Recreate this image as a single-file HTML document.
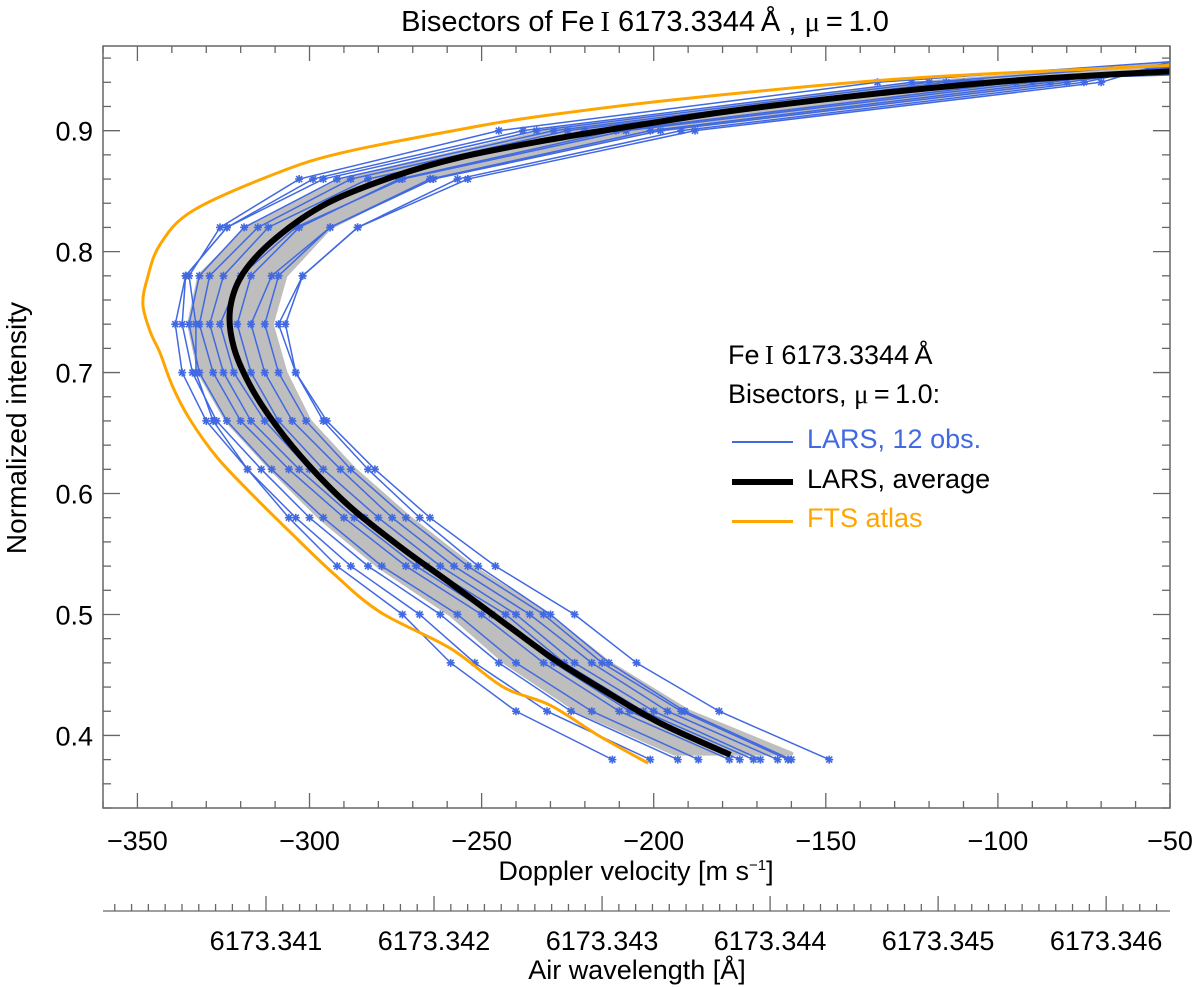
<!DOCTYPE html>
<html><head><meta charset="utf-8"><style>
html,body{margin:0;padding:0;background:#fff;}
svg{display:block;font-family:"Liberation Sans",sans-serif;}
</style></head><body>
<svg id="chart" width="1200" height="987" viewBox="0 0 1200 987" xmlns="http://www.w3.org/2000/svg"></svg>
<script>
// ---- data ----
const xTicks = [-350,-300,-250,-200,-150,-100,-50];
const yTicks = [0.4,0.5,0.6,0.7,0.8,0.9];
const wlTicks = ["6173.341","6173.342","6173.343","6173.344","6173.345","6173.346"];
const avgI = [0.384,0.410,0.439,0.463,0.490,0.526,0.556,0.589,0.622,0.655,0.688,0.721,0.752,0.782,0.812,0.840,0.862,0.878,0.892,0.905,0.917,0.931,0.942,0.949];
const avgV = [-177.7,-198,-215.5,-229,-242,-259.1,-273.7,-288.2,-299.8,-309.4,-317,-322,-323.1,-319.3,-309.4,-294.9,-275.7,-256.2,-231.3,-203.6,-175.7,-134.1,-92.6,-50];
const ftsI = [0.377,0.399,0.425,0.440,0.472,0.502,0.534,0.568,0.601,0.630,0.661,0.688,0.716,0.734,0.756,0.777,0.806,0.834,0.865,0.882,0.901,0.912,0.926,0.943,0.954];
const ftsV = [-201.6,-215.5,-230.1,-243.7,-259.1,-279.5,-293.1,-305.6,-317.3,-326.9,-334.7,-339.7,-343.4,-346.3,-348.4,-347.2,-343.4,-333.8,-309.4,-290.2,-256.2,-232.7,-192.6,-127.2,-50];
const bandI = [0.385,0.42,0.46,0.50,0.54,0.58,0.62,0.66,0.70,0.74,0.78,0.82,0.86,0.90,0.94,0.955];
const bandLo = [-194,-222,-243,-259,-280,-297,-311,-324,-332,-335,-332,-318,-290,-230,-120,-50];
const bandHi = [-160,-190,-213,-231,-253,-271,-287,-300,-307,-311,-307,-294,-266,-200,-82,-50];
const obsI = [0.38,0.42,0.46,0.50,0.54,0.58,0.62,0.66,0.70,0.74,0.78,0.82,0.86,0.90,0.94];
const obsTopI = [0.957,0.955,0.953,0.952,0.951,0.950,0.949,0.948,0.947,0.946,0.955,0.957];
const obs1 = [-149,-181,-205,-223,-246,-265,-281,-295,-304,-309,-302,-286,-254,-188,-70];
const obs2 = [-160,-191,-213,-230,-251,-268,-283,-296,-304,-307,-302,-286,-257,-192,-75];
const obs3 = [-161,-192,-215,-232,-254,-272,-288,-301,-309,-313,-309,-294,-265,-201,-85];
const obs4 = [-164,-196,-218,-236,-258,-276,-291,-305,-313,-317,-311,-294,-264,-198,-80];
const obs5 = [-169,-200,-223,-240,-262,-280,-296,-309,-317,-321,-317,-303,-274,-211,-95];
const obs6 = [-171,-203,-226,-243,-266,-284,-300,-313,-322,-326,-320,-304,-273,-208,-90];
const obs7 = [-175,-207,-229,-247,-269,-287,-303,-317,-325,-329,-325,-312,-283,-220,-105];
const obs8 = [-178,-210,-232,-250,-272,-290,-306,-320,-328,-332,-329,-315,-288,-225,-110];
const obs9 = [-187,-218,-240,-257,-279,-296,-311,-324,-332,-335,-332,-319,-292,-229,-115];
const obs10 = [-193,-224,-245,-262,-283,-300,-314,-327,-334,-337,-336,-324,-299,-238,-125];
const obs11 = [-201,-231,-252,-268,-288,-304,-318,-330,-337,-339,-336,-324,-296,-234,-120];
const obs12 = [-212,-240,-259,-273,-292,-306,-318,-328,-333,-333,-335,-326,-303,-245,-135];
const observations = [obs1,obs2,obs3,obs4,obs5,obs6,obs7,obs8,obs9,obs10,obs11,obs12];

// ---- layout / scales ----
const L=103,R=1170,T=46,B=808;
const xMin=-360,xMax=-50,yMin=0.34,yMax=0.97;
const sx=v=>L+(v-xMin)/(xMax-xMin)*(R-L);
const sy=i=>B-(i-yMin)/(yMax-yMin)*(B-T);
const wlMin=6173.34003, wlMax=6173.34638, wlY=911;
const sw=w=>L+(w-wlMin)/(wlMax-wlMin)*(R-L);

const NS="http://www.w3.org/2000/svg";
const svg=document.getElementById('chart');
function mk(tag,attrs,parent){const e=document.createElementNS(NS,tag);for(const k in attrs)e.setAttribute(k,attrs[k]);(parent||svg).appendChild(e);return e;}
function smooth(p){
  let d='M'+p[0][0]+','+p[0][1];
  for(let k=0;k<p.length-1;k++){
    const p0=p[k-1]||p[k],p1=p[k],p2=p[k+1],p3=p[k+2]||p2;
    const c1=[p1[0]+(p2[0]-p0[0])/6,p1[1]+(p2[1]-p0[1])/6];
    const c2=[p2[0]-(p3[0]-p1[0])/6,p2[1]-(p3[1]-p1[1])/6];
    d+=`C${c1[0]},${c1[1]} ${c2[0]},${c2[1]} ${p2[0]},${p2[1]}`;
  }
  return d;
}

const defs=mk('defs',{});
const cp=mk('clipPath',{id:'plotclip'},defs);
mk('rect',{x:L,y:T,width:R-L,height:B-T},cp);
const plot=mk('g',{'clip-path':'url(#plotclip)'});



// band
let bp=[];
for(let k=0;k<bandI.length;k++)bp.push(sx(bandLo[k])+','+sy(bandI[k]));
for(let k=bandI.length-1;k>=0;k--)bp.push(sx(bandHi[k])+','+sy(bandI[k]));
const band=mk('polygon',{points:bp.join(' '),fill:'#bebebe',stroke:'#bebebe','stroke-width':4,'stroke-linejoin':'round'},plot);



// observations
observations.forEach((arr,ci)=>{
  const g=mk('g',{},plot);
  
  
  const pts=arr.map((v,k)=>[sx(v),sy(obsI[k])]);
  pts.push([sx(-50),sy(obsTopI[ci])]);
  mk('polyline',{points:pts.map(p=>p.join(',')).join(' '),fill:'none',stroke:'#4169e1','stroke-width':1.5},g);
  pts.slice(0,arr.length).forEach(p=>{
    const m=mk('path',{d:`M${p[0]-4},${p[1]}h8M${p[0]},${p[1]-4}v8M${p[0]-3},${p[1]-3}l6,6M${p[0]-3},${p[1]+3}l6,-6`,stroke:'#4169e1','stroke-width':1.6,fill:'none'},g);
    
    
  });
});

// FTS
const fts=mk('path',{d:smooth(ftsV.map((v,k)=>[sx(v),sy(ftsI[k])])),fill:'none',stroke:'#ffa500','stroke-width':3},plot);


// average
const avg=mk('path',{d:smooth(avgV.map((v,k)=>[sx(v),sy(avgI[k])])),fill:'none',stroke:'#000','stroke-width':6,'stroke-linejoin':'round'},plot);



// axes box
const box=mk('rect',{x:L,y:T,width:R-L,height:B-T,fill:'none',stroke:'#666','stroke-width':1.5});


const ax=mk('g',{stroke:'#666','stroke-width':1.3});


for(let v=-360;v<=-50;v+=10){
  const x=sx(v), len=(v%50===0)?15:7;
  mk('line',{x1:x,y1:B,x2:x,y2:B-len},ax);
  mk('line',{x1:x,y1:T,x2:x,y2:T+len},ax);
}
for(let k=0;k<=31;k++){
  const i=0.34+k*0.02; if(i>0.971)break;
  const y=sy(i), major=Math.abs(i*10-Math.round(i*10))<1e-6;
  const len=major?17:8;
  mk('line',{x1:L,y1:y,x2:L+len,y2:y},ax);
  mk('line',{x1:R,y1:y,x2:R-len,y2:y},ax);
}
xTicks.forEach(v=>{
  const t=mk('text',{x:sx(v),y:850,'font-size':27,'text-anchor':'middle',fill:'#000'});
  t.textContent=(v<0?'\u2212':'')+Math.abs(v);
  
  
});
yTicks.forEach(i=>{
  const t=mk('text',{x:93,y:sy(i)+10,'font-size':27,'text-anchor':'end',fill:'#000'});
  t.textContent=i.toFixed(1);
  
  
});
// wavelength axis
const wg=mk('g',{stroke:'#666','stroke-width':1.3});


mk('line',{x1:L,y1:wlY,x2:R,y2:wlY},wg);
for(let k=1;k<=63;k++){
  const w=6173.340+k*0.0001; if(w>wlMax)break;
  const x=sw(w), len=(k%10===0)?15:7;
  mk('line',{x1:x,y1:wlY,x2:x,y2:wlY-len},wg);
}
wlTicks.forEach(s=>{
  const t=mk('text',{x:sw(parseFloat(s)),y:950,'font-size':27,'text-anchor':'middle',fill:'#000'});
  t.textContent=s;
  
  
});
</script>
<div style="position:absolute;left:0;top:0;width:1200px;height:987px;pointer-events:none;font-family:'Liberation Sans',sans-serif;">
  <div style="position:absolute;left:0;width:1290px;top:6px;text-align:center;font-size:29px;">Bisectors of Fe<span style="font-family:'Liberation Serif',serif;">&#8201;I</span> 6173.3344&#8201;Å , <span style="font-family:'Liberation Serif',serif;">μ</span>&#8201;=&#8201;1.0</div>
  <div style="position:absolute;left:0;width:1272px;top:856px;text-align:center;font-size:27px;">Doppler velocity [m s<sup style="font-size:15px;">−1</sup>]</div>
  <div style="position:absolute;left:0;width:1274px;top:955px;text-align:center;font-size:27px;">Air wavelength [Å]</div>
  <div style="position:absolute;left:-188px;top:412px;width:410px;text-align:center;font-size:28px;transform:rotate(-90deg);">Normalized intensity</div>
  <div style="position:absolute;left:728px;top:336px;font-size:27px;line-height:39px;">
    <div>Fe<span style="font-family:'Liberation Serif',serif;">&#8201;I</span> 6173.3344&#8201;Å</div>
    <div>Bisectors, <span style="font-family:'Liberation Serif',serif;">μ</span>&#8201;=&#8201;1.0:</div>
  </div>
  <div style="position:absolute;left:732px;top:424px;font-size:27px;color:#4169e1;"><span style="position:absolute;left:0;top:17px;width:61px;height:1.5px;background:#4169e1;"></span><span style="position:absolute;left:75px;white-space:nowrap;">LARS, 12 obs.</span></div>
  <div style="position:absolute;left:732px;top:464px;font-size:27px;color:#000;"><span style="position:absolute;left:0;top:15px;width:61px;height:6px;background:#000;"></span><span style="position:absolute;left:75px;white-space:nowrap;">LARS, average</span></div>
  <div style="position:absolute;left:732px;top:503px;font-size:27px;color:#ffa500;"><span style="position:absolute;left:0;top:17px;width:61px;height:3px;background:#ffa500;"></span><span style="position:absolute;left:75px;white-space:nowrap;">FTS atlas</span></div>
</div>
</body></html>
